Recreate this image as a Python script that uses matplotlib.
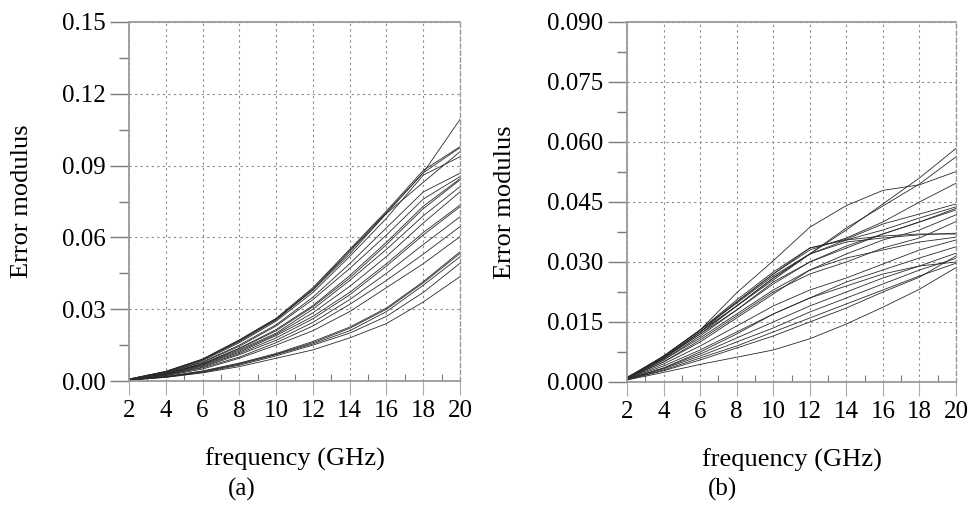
import matplotlib
matplotlib.use("Agg")
import matplotlib.pyplot as plt
from matplotlib.ticker import MultipleLocator, FormatStrFormatter

plt.rcParams['font.family'] = ['Liberation Serif', 'DejaVu Serif']

freq = [2, 4, 6, 8, 10, 12, 14, 16, 18, 20]
x_ticks = [2, 4, 6, 8, 10, 12, 14, 16, 18, 20]
yticks_a = [0.00, 0.03, 0.06, 0.09, 0.12, 0.15]
yticks_b = [0.000, 0.015, 0.030, 0.045, 0.060, 0.075, 0.090]

# Panel (a) curves: error modulus at freq points
err_a1 = [0.0008, 0.0040, 0.0090, 0.0170, 0.0260, 0.0380, 0.0530, 0.0700, 0.0870, 0.1093]
err_a2 = [0.0008, 0.0040, 0.0092, 0.0172, 0.0262, 0.0390, 0.0550, 0.0710, 0.0880, 0.0979]
err_a3 = [0.0007, 0.0038, 0.0088, 0.0165, 0.0255, 0.0380, 0.0540, 0.0700, 0.0830, 0.0958]
err_a4 = [0.0007, 0.0036, 0.0085, 0.0160, 0.0250, 0.0370, 0.0520, 0.0680, 0.0860, 0.0937]
err_a5 = [0.0007, 0.0035, 0.0080, 0.0150, 0.0235, 0.0350, 0.0490, 0.0640, 0.0790, 0.0868]
err_a6 = [0.0006, 0.0033, 0.0078, 0.0145, 0.0230, 0.0340, 0.0470, 0.0610, 0.0760, 0.0854]
err_a7 = [0.0006, 0.0030, 0.0072, 0.0135, 0.0210, 0.0310, 0.0430, 0.0570, 0.0720, 0.0840]
err_a8 = [0.0006, 0.0030, 0.0070, 0.0130, 0.0200, 0.0300, 0.0420, 0.0550, 0.0690, 0.0812]
err_a9 = [0.0005, 0.0028, 0.0065, 0.0120, 0.0190, 0.0270, 0.0370, 0.0490, 0.0620, 0.0735]
err_a10 = [0.0005, 0.0027, 0.0062, 0.0115, 0.0180, 0.0260, 0.0360, 0.0480, 0.0610, 0.0728]
err_a11 = [0.0005, 0.0025, 0.0058, 0.0110, 0.0170, 0.0245, 0.0340, 0.0450, 0.0570, 0.0686]
err_a12 = [0.0005, 0.0024, 0.0055, 0.0100, 0.0160, 0.0230, 0.0320, 0.0420, 0.0530, 0.0645]
err_a13 = [0.0005, 0.0022, 0.0050, 0.0095, 0.0150, 0.0210, 0.0290, 0.0390, 0.0490, 0.0603]
err_a14 = [0.0004, 0.0018, 0.0040, 0.0072, 0.0112, 0.0160, 0.0220, 0.0300, 0.0410, 0.0533]
err_a15 = [0.0004, 0.0017, 0.0038, 0.0070, 0.0110, 0.0155, 0.0210, 0.0290, 0.0400, 0.0519]
err_a16 = [0.0004, 0.0016, 0.0036, 0.0066, 0.0105, 0.0150, 0.0200, 0.0270, 0.0370, 0.0492]
err_a17 = [0.0004, 0.0015, 0.0034, 0.0060, 0.0095, 0.0130, 0.0180, 0.0240, 0.0330, 0.0436]
err_a18 = [0.0008, 0.0039, 0.0090, 0.0168, 0.0258, 0.0385, 0.0545, 0.0705, 0.0870, 0.0975]
err_a19 = [0.0006, 0.0031, 0.0073, 0.0137, 0.0215, 0.0315, 0.0440, 0.0580, 0.0730, 0.0845]
err_a20 = [0.0004, 0.0019, 0.0042, 0.0075, 0.0115, 0.0165, 0.0225, 0.0305, 0.0415, 0.0540]
err_a21 = [0.0006, 0.0029, 0.0068, 0.0125, 0.0195, 0.0285, 0.0395, 0.0520, 0.0660, 0.0790]

# Panel (b) curves
err_b1 = [0.0010, 0.0063, 0.0130, 0.0197, 0.0265, 0.0320, 0.0380, 0.0445, 0.0510, 0.0584]
err_b2 = [0.0010, 0.0060, 0.0120, 0.0190, 0.0255, 0.0320, 0.0385, 0.0440, 0.0495, 0.0563]
err_b3 = [0.0012, 0.0063, 0.0130, 0.0223, 0.0303, 0.0387, 0.0441, 0.0479, 0.0493, 0.0526]
err_b4 = [0.0010, 0.0060, 0.0125, 0.0200, 0.0270, 0.0330, 0.0360, 0.0400, 0.0450, 0.0497]
err_b5 = [0.0010, 0.0065, 0.0130, 0.0205, 0.0275, 0.0335, 0.0357, 0.0395, 0.0420, 0.0445]
err_b6 = [0.0010, 0.0060, 0.0125, 0.0190, 0.0260, 0.0320, 0.0355, 0.0380, 0.0410, 0.0438]
err_b7 = [0.0010, 0.0058, 0.0120, 0.0180, 0.0250, 0.0300, 0.0340, 0.0370, 0.0400, 0.0434]
err_b8 = [0.0009, 0.0050, 0.0100, 0.0160, 0.0220, 0.0280, 0.0320, 0.0355, 0.0380, 0.0418]
err_b9 = [0.0009, 0.0050, 0.0105, 0.0165, 0.0225, 0.0270, 0.0300, 0.0335, 0.0360, 0.0401]
err_b10 = [0.0010, 0.0065, 0.0130, 0.0200, 0.0270, 0.0335, 0.0355, 0.0365, 0.0370, 0.0370]
err_b11 = [0.0010, 0.0060, 0.0125, 0.0190, 0.0260, 0.0320, 0.0350, 0.0360, 0.0368, 0.0372]
err_b12 = [0.0009, 0.0055, 0.0110, 0.0170, 0.0230, 0.0280, 0.0310, 0.0330, 0.0350, 0.0362]
err_b13 = [0.0008, 0.0045, 0.0090, 0.0140, 0.0190, 0.0230, 0.0260, 0.0295, 0.0330, 0.0355]
err_b14 = [0.0008, 0.0040, 0.0080, 0.0125, 0.0170, 0.0210, 0.0250, 0.0280, 0.0310, 0.0338]
err_b15 = [0.0007, 0.0035, 0.0070, 0.0110, 0.0150, 0.0190, 0.0225, 0.0260, 0.0290, 0.0322]
err_b16 = [0.0007, 0.0033, 0.0065, 0.0100, 0.0135, 0.0175, 0.0210, 0.0245, 0.0280, 0.0309]
err_b17 = [0.0006, 0.0030, 0.0060, 0.0090, 0.0125, 0.0160, 0.0195, 0.0230, 0.0265, 0.0297]
err_b18 = [0.0005, 0.0024, 0.0044, 0.0062, 0.0080, 0.0108, 0.0145, 0.0187, 0.0232, 0.0286]
err_b19 = [0.0007, 0.0035, 0.0075, 0.0120, 0.0170, 0.0210, 0.0240, 0.0270, 0.0290, 0.0300]
err_b20 = [0.0009, 0.0055, 0.0115, 0.0180, 0.0245, 0.0300, 0.0335, 0.0370, 0.0400, 0.0430]
err_b21 = [0.0006, 0.0028, 0.0055, 0.0085, 0.0115, 0.0150, 0.0185, 0.0225, 0.0262, 0.0315]

curves_a = [err_a1, err_a2, err_a3, err_a4, err_a5, err_a6, err_a7, err_a8, err_a9, err_a10,
            err_a11, err_a12, err_a13, err_a14, err_a15, err_a16, err_a17, err_a18, err_a19,
            err_a20, err_a21]
curves_b = [err_b1, err_b2, err_b3, err_b4, err_b5, err_b6, err_b7, err_b8, err_b9, err_b10,
            err_b11, err_b12, err_b13, err_b14, err_b15, err_b16, err_b17, err_b18, err_b19,
            err_b20, err_b21]

W, H = 970, 508
fig = plt.figure(figsize=(W / 100, H / 100), dpi=100)
ax_a = fig.add_axes([129 / W, 1 - 381 / H, 331 / W, 359 / H])
ax_b = fig.add_axes([627 / W, 1 - 382 / H, 329 / W, 360 / H])

FS = 18
grid_kw = dict(color='#8a8a8a', linestyle=(0, (2, 3)), linewidth=0.8)


def style(ax, yticks, ymax, ystep_minor, fmt, lbl_x):
    ax.set_xlim(2, 20)
    ax.set_ylim(0, ymax)
    ax.set_xticks(x_ticks)
    ax.set_yticks(yticks)
    ax.yaxis.set_minor_locator(MultipleLocator(ystep_minor))
    ax.xaxis.set_minor_locator(MultipleLocator(1))
    ax.yaxis.set_major_formatter(FormatStrFormatter(fmt))
    ax.tick_params(axis='y', which='major', direction='out', length=14, width=1.0,
                   color='#7a7a7a', pad=3, labelsize=FS)
    ax.tick_params(axis='y', which='minor', direction='out', length=7, width=1.0,
                   color='#7a7a7a')
    ax.tick_params(axis='x', which='major', direction='out', length=10, width=0.8,
                   color='#aaaaaa', pad=4, labelsize=FS)
    ax.tick_params(axis='x', which='minor', direction='in', length=5, width=0.8,
                   color='#7a7a7a')
    ax.grid(True, which='major', **grid_kw)
    for s in ['left', 'bottom', 'top']:
        ax.spines[s].set_color('#9a9a9a')
        ax.spines[s].set_linewidth(1.3)
    ax.spines['right'].set_color('#9a9a9a')
    ax.spines['right'].set_linestyle((0, (3, 2)))
    ax.spines['right'].set_linewidth(1.0)
    ax.set_axisbelow(True)
    ax.set_xlabel('frequency (GHz)', fontsize=FS + 1, labelpad=18)
    ax.set_ylabel('Error modulus', fontsize=FS + 1)
    ax.yaxis.set_label_coords(lbl_x, 0.5)


style(ax_a, yticks_a, 0.15, 0.015, '%.2f', (33 - 129) / 331)
style(ax_b, yticks_b, 0.09, 0.0075, '%.3f', (516 - 627) / 329)

for c in curves_a:
    ax_a.plot(freq, c, color='#2a2a2a', linewidth=0.6)
for c in curves_b:
    ax_b.plot(freq, c, color='#2a2a2a', linewidth=0.6)

fig.text(242 / W, 1 - 489 / H, '(a)', ha='center', va='center', fontsize=FS)
fig.text(723 / W, 1 - 489 / H, '(b)', ha='center', va='center', fontsize=FS)

fig.savefig('out.png', dpi=100)
